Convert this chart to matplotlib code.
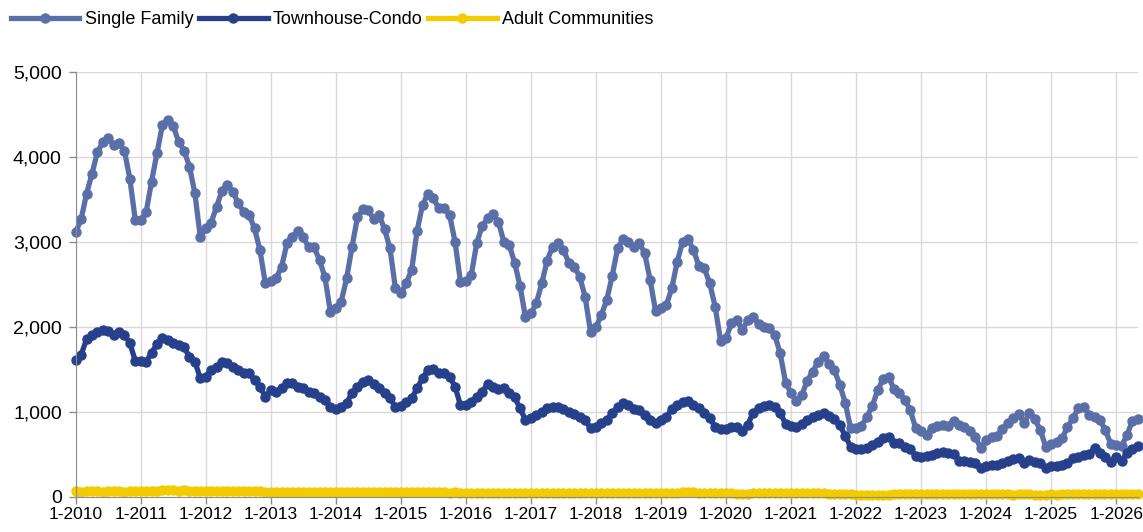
import numpy as np
import matplotlib
matplotlib.use("Agg")
import matplotlib.pyplot as plt

plt.rcParams['font.family'] = ['Liberation Sans', 'DejaVu Sans']

# monthly values, Jan 2010 .. May 2026
single_family = [
    3114, 3267, 3565, 3800, 4055, 4173, 4220, 4141, 4161, 4075, 3741, 3259,  # 2010
    3259, 3349, 3710, 4043, 4376, 4435, 4365, 4180, 4075, 3886, 3573, 3055,  # 2011
    3161, 3227, 3416, 3604, 3671, 3592, 3455, 3357, 3318, 3161, 2906, 2514,  # 2012
    2545, 2573, 2710, 2984, 3063, 3133, 3055, 2937, 2937, 2788, 2584, 2180,  # 2013
    2220, 2298, 2573, 2945, 3290, 3384, 3376, 3267, 3318, 3149, 2925, 2455,  # 2014
    2396, 2514, 2671, 3133, 3435, 3565, 3514, 3396, 3396, 3318, 3004, 2533,  # 2015
    2545, 2612, 2984, 3188, 3278, 3329, 3239, 3004, 2965, 2757, 2482, 2114,  # 2016
    2161, 2278, 2514, 2780, 2945, 2992, 2906, 2757, 2710, 2592, 2357, 1945,  # 2017
    1996, 2141, 2318, 2600, 2925, 3031, 3004, 2937, 2992, 2867, 2553, 2192,  # 2018
    2220, 2259, 2455, 2769, 3004, 3031, 2906, 2718, 2690, 2514, 2239, 1839,  # 2019
    1867, 2043, 2082, 1965, 2082, 2122, 2035, 2004, 1984, 1906, 1690, 1345,  # 2020
    1220, 1133, 1200, 1369, 1475, 1592, 1659, 1565, 1494, 1318, 1110, 808,   # 2021
    808, 835, 945, 1071, 1259, 1384, 1416, 1267, 1220, 1141, 1024, 808,      # 2022
    780, 729, 808, 835, 847, 835, 898, 847, 826, 780, 710, 573,              # 2023
    671, 702, 718, 796, 874, 925, 976, 867, 992, 914, 788, 592,              # 2024
    624, 651, 690, 820, 925, 1043, 1063, 965, 945, 906, 788, 624,            # 2025
    612, 600, 729, 898, 914,                                                 # 2026
]

townhouse_condo = [
    1612, 1671, 1855, 1906, 1945, 1965, 1957, 1906, 1945, 1906, 1808, 1604,
    1604, 1592, 1698, 1796, 1867, 1847, 1808, 1788, 1761, 1651, 1592, 1396,
    1416, 1494, 1533, 1592, 1573, 1533, 1494, 1455, 1455, 1376, 1298, 1180,
    1259, 1239, 1278, 1337, 1337, 1298, 1278, 1239, 1220, 1180, 1141, 1063,
    1031, 1063, 1110, 1220, 1298, 1357, 1376, 1329, 1278, 1220, 1161, 1063,
    1070, 1121, 1161, 1278, 1396, 1494, 1502, 1455, 1455, 1416, 1298, 1082,
    1082, 1121, 1180, 1239, 1329, 1298, 1267, 1278, 1227, 1173, 1043, 906,
    925, 965, 1004, 1043, 1063, 1055, 1031, 1004, 976, 945, 906, 808,
    827, 874, 906, 984, 1055, 1102, 1082, 1031, 1024, 965, 906, 874,
    906, 945, 1031, 1082, 1121, 1129, 1082, 1043, 984, 925, 827, 800,
    796, 820, 827, 780, 847, 992, 1043, 1071, 1082, 1055, 992, 859,
    835, 820, 859, 906, 945, 965, 984, 953, 914, 847, 720, 590,
    561, 561, 573, 612, 651, 690, 710, 639, 631, 592, 561, 482,
    467, 482, 494, 514, 533, 514, 506, 427, 427, 416, 396, 337,
    365, 376, 376, 396, 427, 443, 455, 404, 435, 416, 404, 337,
    365, 365, 376, 396, 455, 475, 494, 506, 573, 514, 475, 416,
    467, 427, 514, 561, 600,
]

adult_communities = [
    68, 62, 65, 70, 66, 64, 68, 70, 66, 64, 67, 69,
    70, 72, 74, 76, 78, 80, 78, 76, 78, 75, 74, 72,
    70, 72, 74, 72, 70, 68, 70, 72, 74, 70, 68, 62,
    58, 56, 60, 58, 56, 58, 60, 56, 58, 55, 56, 54,
    54, 56, 58, 56, 55, 57, 58, 56, 54, 56, 58, 60,
    58, 56, 55, 58, 56, 54, 56, 58, 55, 52, 54, 50,
    46, 44, 45, 46, 48, 47, 46, 45, 46, 44, 45, 44,
    46, 48, 50, 52, 50, 48, 50, 52, 51, 50, 48, 46,
    48, 46, 47, 48, 50, 52, 50, 49, 50, 48, 50, 52,
    50, 48, 50, 52, 54, 56, 54, 52, 50, 48, 46, 44,
    44, 42, 40, 38, 40, 44, 46, 48, 50, 48, 46, 44,
    42, 44, 46, 48, 46, 44, 42, 40, 38, 36, 34, 30,
    26, 24, 22, 22, 24, 26, 28, 30, 32, 30, 32, 34,
    36, 35, 36, 38, 36, 35, 34, 36, 35, 34, 33, 32,
    32, 30, 30, 32, 30, 28, 30, 32, 30, 28, 26, 28,
    30, 28, 30, 32, 30, 30, 32, 34, 32, 30, 32, 34,
    36, 34, 36, 38, 40,
]

years = list(range(2010, 2027))
tick_labels = ["1-%d" % y for y in years]

x = np.arange(len(single_family))

fig = plt.figure(figsize=(11.43, 5.32), dpi=100)
ax = fig.add_axes([0.0662, 0.0658, 0.9293, 0.7989])

series = [
    ("Single Family", single_family, "#5A6FA8"),
    ("Townhouse-Condo", townhouse_condo, "#26408C"),
    ("Adult Communities", adult_communities, "#F2CB00"),
]
for name, vals, col in series:
    ax.plot(x, vals, color=col, lw=3.8, marker="o", ms=6.5,
            label=name, clip_on=False, solid_joinstyle="round")

ax.set_xlim(0, len(x) - 1)
ax.set_ylim(0, 5000)
ax.set_yticks(range(0, 5001, 1000))
ax.set_yticklabels(["{:,}".format(v) for v in range(0, 5001, 1000)])
ax.set_xticks([12 * i for i in range(len(years))])
ax.set_xticklabels(tick_labels)

ax.grid(True, color="#d9d9d9", lw=1)
ax.set_axisbelow(True)
for s in ["top", "right"]:
    ax.spines[s].set_visible(False)
for s in ["left", "bottom"]:
    ax.spines[s].set_color("#8c8c8c")
ax.tick_params(axis="both", colors="#8c8c8c", labelcolor="black",
               length=5, width=1)
ax.tick_params(axis="x", labelsize=12.5, pad=2)
ax.tick_params(axis="y", labelsize=14, pad=5)

fig.legend(loc="upper left", bbox_to_anchor=(0.0, 1.0), ncol=3, frameon=False,
           fontsize=13, handlelength=3.8, handletextpad=0.3,
           columnspacing=0.3, borderaxespad=0.2)

fig.savefig("out.png", dpi=100)
